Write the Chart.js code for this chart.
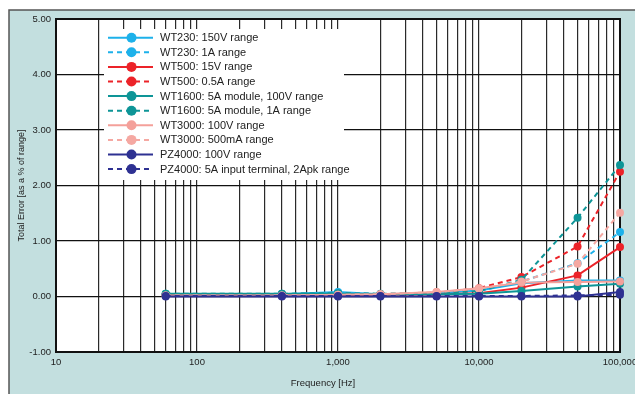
<!DOCTYPE html>
<html>
<head>
<meta charset="utf-8">
<script src="https://cdn.jsdelivr.net/npm/chart.js@4.4.0/dist/chart.umd.min.js"></script>
<style>
  html, body { margin: 0; padding: 0; background: #fff; }
  #wrap { position: relative; width: 635px; height: 394px; }
</style>
</head>
<body>
<div id="wrap"><canvas id="chart" width="635" height="394"></canvas></div>
<script>
// frequencies (Hz) of the measured points
const freqs = [60, 400, 1000, 2000, 5000, 10000, 20000, 50000, 100000];
const xLabelTicks = [10, 100, 1000, 10000, 100000];

// total error, % of range
const wt230Volt  = [0.04, 0.04, 0.08, 0.04, 0.06, 0.11, 0.24, 0.29, 0.29];
const wt230Amp   = [0.04, 0.04, 0.07, 0.04, 0.06, 0.10, 0.27, 0.60, 1.16];
const wt500Volt  = [0.03, 0.03, 0.03, 0.03, 0.04, 0.06, 0.16, 0.38, 0.89];
const wt500Amp   = [0.03, 0.03, 0.04, 0.04, 0.06, 0.15, 0.35, 0.90, 2.25];
const wt1600Volt = [0.05, 0.05, 0.05, 0.04, 0.04, 0.05, 0.10, 0.18, 0.23];
const wt1600Amp  = [0.05, 0.05, 0.06, 0.05, 0.06, 0.10, 0.30, 1.42, 2.37];
const wt3000Volt = [0.02, 0.02, 0.03, 0.04, 0.08, 0.15, 0.25, 0.26, 0.27];
const wt3000Amp  = [0.02, 0.02, 0.03, 0.04, 0.08, 0.14, 0.27, 0.59, 1.51];
const pz4000Volt = [0.00, 0.00, 0.00, 0.00, 0.00, 0.00, 0.00, 0.00, 0.08];
const pz4000Amp  = [0.01, 0.01, 0.01, 0.01, 0.01, 0.01, 0.01, 0.02, 0.03];

const seriesLabels = [
  "WT230: 150V range",
  "WT230: 1A range",
  "WT500: 15V range",
  "WT500: 0.5A range",
  "WT1600: 5A module, 100V range",
  "WT1600: 5A module, 1A range",
  "WT3000: 100V range",
  "WT3000: 500mA range",
  "PZ4000: 100V range",
  "PZ4000: 5A input terminal, 2Apk range",
];
const seriesValues = [wt230Volt, wt230Amp, wt500Volt, wt500Amp, wt1600Volt,
  wt1600Amp, wt3000Volt, wt3000Amp, pz4000Volt, pz4000Amp];
const seriesColors = ["#1db1ea", "#1db1ea", "#ec2329", "#ec2329", "#0e9597",
  "#0e9597", "#f4a09a", "#f5a8a2", "#2e3192", "#2e3192"];
const seriesDashed = [false, true, false, true, false, true, false, true, false, true];

const FONT = "'Liberation Sans', Arial, Helvetica, sans-serif";
const FRAME_BG = "#c3dfdf";

const datasets = seriesValues.map((vals, i) => ({
  label: seriesLabels[i],
  data: freqs.map((f, j) => ({ x: f, y: vals[j] })),
  borderColor: seriesColors[i],
  backgroundColor: seriesColors[i],
  borderWidth: 2,
  borderDash: seriesDashed[i] ? [5, 4] : [],
  pointRadius: 4,
  pointBorderWidth: 0,
  pointHoverRadius: 4,
  tension: 0,
  clip: false,
  order: seriesValues.length - i, // later series on top
}));

// teal frame, white plot area, border, in-plot legend and x title
const framePlugin = {
  id: "frame",
  beforeDraw(chart) {
    const { ctx, width, height, chartArea: a } = chart;
    ctx.save();
    ctx.fillStyle = "#fff";
    ctx.fillRect(0, 0, width, height);
    ctx.fillStyle = FRAME_BG;
    ctx.fillRect(9, 10, width - 9, height - 10);
    ctx.strokeStyle = "#555";
    ctx.lineWidth = 1.5;
    ctx.beginPath();
    ctx.moveTo(9, height);
    ctx.lineTo(9, 10);
    ctx.lineTo(width, 10);
    ctx.stroke();
    ctx.fillStyle = "#fff";
    ctx.fillRect(a.left, a.top, a.right - a.left, a.bottom - a.top);
    ctx.restore();
  },
  beforeDatasetsDraw(chart) {
    const { ctx, chartArea: a } = chart;
    ctx.save();
    // legend box hides the grid behind it
    ctx.fillStyle = "#fff";
    ctx.fillRect(104, 29, 240, 151);
    ctx.strokeStyle = "#111";
    ctx.lineWidth = 2;
    ctx.strokeRect(a.left, a.top, a.right - a.left, a.bottom - a.top);
    ctx.restore();
  },
  afterDraw(chart) {
    const { ctx } = chart;
    ctx.save();
    ctx.font = "11px " + FONT;
    ctx.textBaseline = "middle";
    chart.data.datasets.forEach((ds, i) => {
      const y = 37.7 + i * 14.6;
      ctx.strokeStyle = ds.borderColor;
      ctx.lineWidth = 2;
      ctx.setLineDash(ds.borderDash);
      ctx.beginPath();
      ctx.moveTo(108, y);
      ctx.lineTo(153, y);
      ctx.stroke();
      ctx.setLineDash([]);
      ctx.fillStyle = ds.backgroundColor;
      ctx.beginPath();
      ctx.arc(131.5, y, 5, 0, Math.PI * 2);
      ctx.fill();
      ctx.fillStyle = "#222";
      ctx.textAlign = "left";
      ctx.fillText(ds.label, 160, y + 0.5);
    });
    ctx.font = "9.5px " + FONT;
    ctx.textAlign = "center";
    ctx.fillStyle = "#222";
    ctx.fillText("Frequency [Hz]", 323, 383);
    ctx.restore();
  },
};

new Chart(document.getElementById("chart"), {
  type: "line",
  data: { datasets },
  plugins: [framePlugin],
  options: {
    responsive: false,
    animation: false,
    events: [],
    layout: { padding: { top: 19, right: 15, left: 0, bottom: 0 } },
    plugins: {
      legend: { display: false },
      tooltip: { enabled: false },
    },
    scales: {
      x: {
        type: "logarithmic",
        min: 10,
        max: 100000,
        afterBuildTicks(scale) {
          const ticks = [];
          for (let d = 10; d < 100000; d *= 10) {
            for (let m = 1; m < 10; m++) ticks.push({ value: d * m });
          }
          ticks.push({ value: 100000 });
          scale.ticks = ticks;
        },
        afterFit(scale) {
          scale.height = 42;
          scale.paddingLeft = 0;
          scale.paddingRight = 0;
        },
        border: { display: false },
        grid: { color: "#2a2a2a", lineWidth: 1.2, drawTicks: false },
        ticks: {
          autoSkip: false,
          maxRotation: 0,
          padding: 5,
          color: "#222",
          font: { family: FONT, size: 9.5 },
          callback: (v) => xLabelTicks.includes(v) ? v.toLocaleString("en-US") : "",
        },
      },
      y: {
        type: "linear",
        min: -1,
        max: 5,
        afterFit(scale) { scale.width = 56; },
        border: { display: false },
        grid: { color: "#111", lineWidth: 1.3, drawTicks: false },
        ticks: {
          stepSize: 1,
          padding: 5,
          color: "#222",
          font: { family: FONT, size: 9.5 },
          callback: (v) => v.toFixed(2),
        },
        title: {
          display: true,
          text: "Total Error [as a % of range]",
          color: "#222",
          font: { family: FONT, size: 9 },
          padding: { top: 16.5, bottom: 0 },
        },
      },
    },
  },
});
</script>
</body>
</html>
